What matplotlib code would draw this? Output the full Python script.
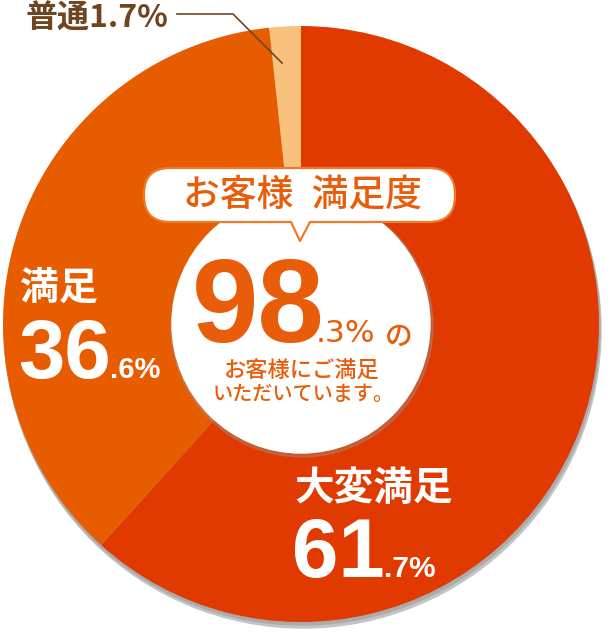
import matplotlib
matplotlib.use("Agg")
import matplotlib.pyplot as plt
from matplotlib.patches import Circle, FancyBboxPatch, Polygon

# data
labels = ["大変満足", "満足", "普通"]
values = [61.7, 36.6, 1.7]
colors = ["#E03A00", "#E85C00", "#F9C27C"]
total_pct = "98"
total_dec = ".3%"
big_nums = ["61", "36"]
small_nums = [".7%", ".6%"]

W, H = 608, 632
cx, cy, R = 301, 632 - 324, 298
JP = ["Noto Sans CJK JP", "DejaVu Sans"]
NUM = ["Liberation Sans", "DejaVu Sans"]
orange = "#E85C0A"
brown = "#6E4520"

fig = plt.figure(figsize=(W / 100, H / 100), dpi=100)
ax = fig.add_axes([0, 0, 1, 1])

# drop shadow of the pie
ax.add_patch(Circle((cx + 2, cy - 6), R, color="#C4C4C4", zorder=0))
ax.add_patch(Circle((cx + 1, cy - 3), R, color="#ABABAB", zorder=0))

ax.pie(values, colors=colors, startangle=90, counterclock=False,
       center=(cx, cy), radius=R, wedgeprops=dict(linewidth=0))

# white centre disc with soft shadow
ax.add_patch(Circle((cx + 1, cy - 2), 131, color="#999999", alpha=0.35, zorder=3))
ax.add_patch(Circle((cx, cy), 129, color="white", zorder=4))

# speech bubble
bx0, bx1 = 144, 455
by0, by1 = 632 - 222, 632 - 168
ax.add_patch(FancyBboxPatch((bx0, by0), bx1 - bx0, by1 - by0,
                            boxstyle="round,pad=0,rounding_size=26",
                            facecolor="white", edgecolor="#EE7A2A", lw=1.6, zorder=5))
tail = [(291, by0 + 2), (300, 632 - 241), (310, by0 + 2)]
ax.add_patch(Polygon(tail, closed=True, facecolor="white", edgecolor="none", zorder=6))
ax.plot([291, 300, 310], [by0, 632 - 241, by0], color="#EE7A2A", lw=1.6,
        zorder=6, solid_capstyle="round")

ax.text(cx + 1, 632 - 195, "お客様\u2002満足度", family=JP, fontweight="medium",
        fontsize=26.5, color=orange, ha="center", va="center", zorder=7)

# centre figures
ax.text(192, 632 - 342, total_pct, family=NUM, fontweight="bold", fontsize=86,
        color=orange, ha="left", va="baseline", zorder=7)
ax.text(316, 632 - 342, total_dec, family=["DejaVu Sans"], fontsize=22.5, color=orange,
        ha="left", va="baseline", zorder=7)
ax.text(385, 632 - 345, "の", family=JP, fontweight="medium", fontsize=20, color=orange,
        ha="left", va="baseline", zorder=7)
ax.text(302, 632 - 371, "お客様にご満足", family=JP, fontweight="medium", fontsize=16,
        color=orange, ha="center", va="center", zorder=7)
ax.text(303, 632 - 394, "いただいています。", family=JP, fontweight="medium", fontsize=14.5,
        color=orange, ha="center", va="center", zorder=7)

# slice labels
ax.text(20, 632 - 300, labels[1], family=JP, fontweight="bold", fontsize=28,
        color="white", ha="left", va="baseline", zorder=7)
ax.text(18, 632 - 378, big_nums[1], family=NUM, fontweight="bold", fontsize=60,
        color="white", ha="left", va="baseline", zorder=7)
ax.text(110, 632 - 378, small_nums[1], family=NUM, fontweight="bold", fontsize=21,
        color="white", ha="left", va="baseline", zorder=7)

ax.text(294, 632 - 500, labels[0], family=JP, fontweight="bold", fontsize=28.5,
        color="white", ha="left", va="baseline", zorder=7)
ax.text(292, 632 - 577, big_nums[0], family=NUM, fontweight="bold", fontsize=60,
        color="white", ha="left", va="baseline", zorder=7)
ax.text(384, 632 - 577, small_nums[0], family=NUM, fontweight="bold", fontsize=21.5,
        color="white", ha="left", va="baseline", zorder=7)

# 普通 label with leader line
ax.text(26, 632 - 28, labels[2] + "1.7%", family=JP, fontweight="bold", fontsize=23,
        color=brown, ha="left", va="baseline", zorder=7)
ax.plot([177, 233, 282], [632 - 14, 632 - 14, 632 - 63], color=brown, lw=1.2, zorder=7)

ax.set_xlim(0, W)
ax.set_ylim(0, H)
ax.set_aspect("equal")
ax.axis("off")

fig.savefig("out.png", dpi=100, facecolor="white")
